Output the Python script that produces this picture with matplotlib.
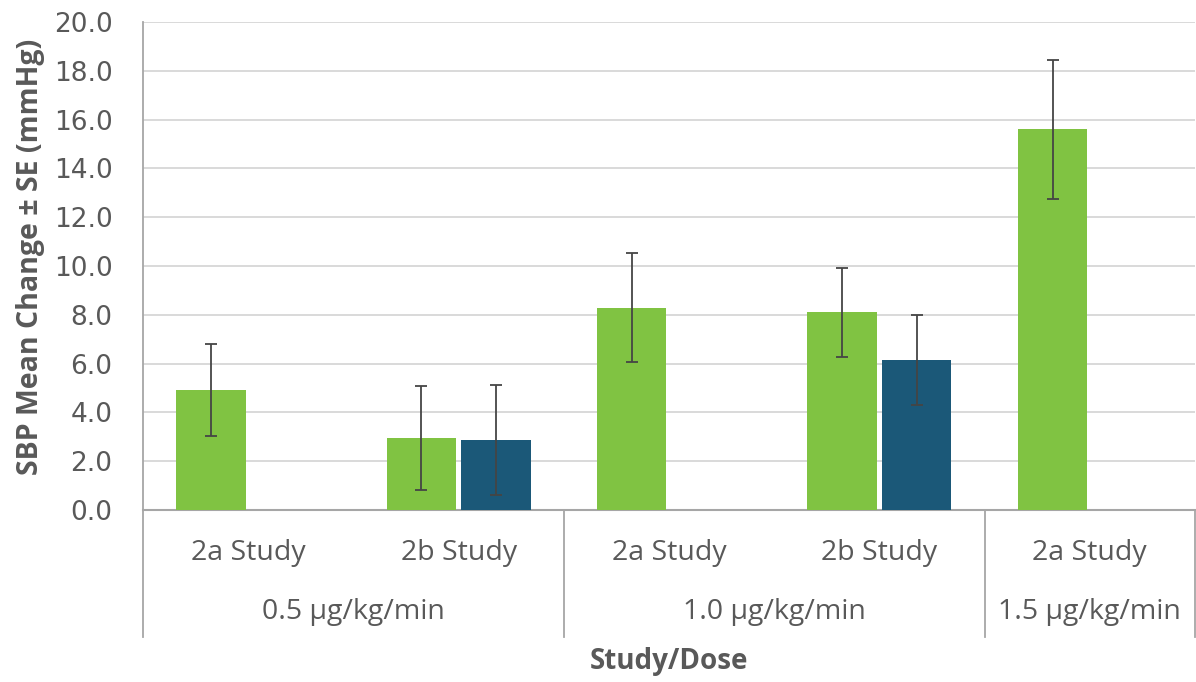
import matplotlib
matplotlib.use("Agg")
import matplotlib.pyplot as plt
import matplotlib.transforms as mtransforms
import numpy as np

# ---- data ----
studies = ["2a Study", "2b Study", "2a Study", "2b Study", "2a Study"]
doses = ["0.5 µg/kg/min", "1.0 µg/kg/min", "1.5 µg/kg/min"]
dose_sizes = [2, 2, 1]
green_mean = [4.92, 2.94, 8.29, 8.10, 15.60]
green_se = [1.87, 2.13, 2.24, 1.81, 2.84]
blue_mean = [None, 2.88, None, 6.16, None]
blue_se = [None, 2.26, None, 1.84, None]
yticks = [0, 2, 4, 6, 8, 10, 12, 14, 16, 18, 20]

GREEN = "#80C342"
BLUE = "#1B5878"
TXT = "#595959"
ERR = "#454545"

W, H = 1196, 682
fig = plt.figure(figsize=(W / 100, H / 100), dpi=100)
ax_l, ax_r, ax_b, ax_t = 143, 1195, 510, 22
ax = fig.add_axes([ax_l / W, (H - ax_b) / H, (ax_r - ax_l) / W, (ax_b - ax_t) / H])

x = np.arange(len(studies))
bw = 0.33
off = 0.177

ax.bar(x - off, green_mean, width=bw, color=GREEN, zorder=3)
ax.errorbar(x - off, green_mean, yerr=green_se, fmt="none", ecolor=ERR,
            elinewidth=1.3, capsize=4, capthick=1.3, zorder=4)

bx = [xi + off for xi, v in zip(x, blue_mean) if v is not None]
bv = [v for v in blue_mean if v is not None]
bs = [s for s in blue_se if s is not None]
ax.bar(bx, bv, width=bw, color=BLUE, zorder=3)
ax.errorbar(bx, bv, yerr=bs, fmt="none", ecolor=ERR,
            elinewidth=1.3, capsize=4, capthick=1.3, zorder=4)

ax.set_xlim(-0.5, len(studies) - 0.5)
ax.set_ylim(0, 20)
ax.set_yticks(yticks)
ax.set_yticklabels([f"{t:.1f}" for t in yticks], fontsize=19, color=TXT,
                   family="DejaVu Sans")
ax.tick_params(axis="y", length=0, pad=22)
ax.set_xticks([])
ax.yaxis.grid(True, color="#D9D9D9", linewidth=1.4, zorder=0)
ax.set_axisbelow(True)
for s in ["top", "right"]:
    ax.spines[s].set_visible(False)
ax.spines["left"].set_color("#A6A6A6")
ax.spines["left"].set_linewidth(1.3)
ax.spines["bottom"].set_color("#A6A6A6")
ax.spines["bottom"].set_linewidth(1.5)

trans = mtransforms.blended_transform_factory(ax.transData, ax.transAxes)
row1 = -(553 - ax_b) / (ax_b - ax_t)
row2 = -(612 - ax_b) / (ax_b - ax_t)
sep_bottom = -(637 - ax_b) / (ax_b - ax_t)

for xi, lab in zip(x, studies):
    ax.text(xi, row1, lab, transform=trans, ha="center", va="center",
            fontsize=20.5, color=TXT, family="Open Sans")

start = 0
bounds = [-0.5]
for d, n in zip(doses, dose_sizes):
    c = start + (n - 1) / 2
    ax.text(c, row2, d, transform=trans, ha="center", va="center",
            fontsize=20.5, color=TXT, family="Open Sans")
    start += n
    bounds.append(start - 0.5)

for b in bounds:
    ax.plot([b, b], [0, sep_bottom], transform=trans, color="#A6A6A6",
            linewidth=1.3, clip_on=False)

fig.text(0.5 * (ax_l + ax_r) / W, (H - 662) / H, "Study/Dose", ha="center",
         va="center", fontsize=20, fontweight="bold", color=TXT, family="Open Sans")
fig.text(31 / W, (H - 257) / H, "SBP Mean Change ± SE (mmHg)", rotation=90,
         ha="center", va="center", fontsize=20.5, fontweight="bold", color=TXT,
         family="Open Sans")

fig.savefig("out.png", dpi=100, facecolor="white")
